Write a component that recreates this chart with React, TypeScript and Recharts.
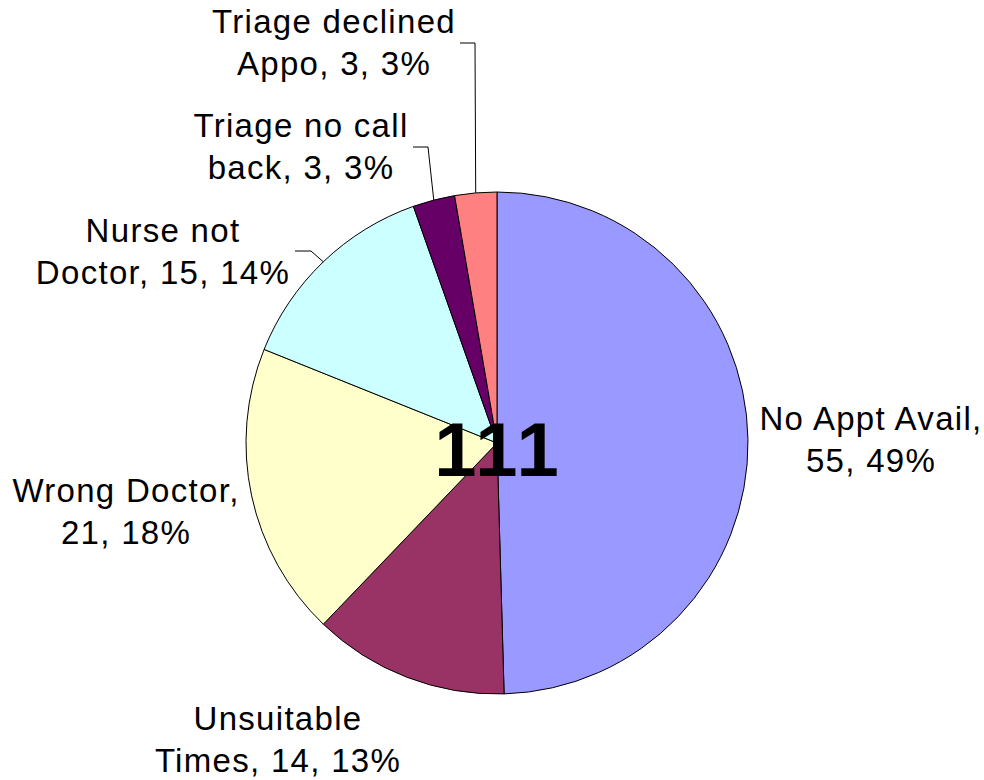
import { PieChart, Pie, Cell } from 'recharts';

const categories = ['No Appt Avail', 'Unsuitable Times', 'Wrong Doctor', 'Nurse not Doctor', 'Triage no call back', 'Triage declined Appo'];
const counts = [55, 14, 21, 15, 3, 3];
const percentLabels = ['49%', '13%', '18%', '14%', '3%', '3%'];
// where Excel wrapped each label
const firstLines = ['No Appt Avail,', 'Unsuitable', 'Wrong Doctor,', 'Nurse not', 'Triage no call', 'Triage declined'];
const secondLines = ['55, 49%', 'Times, 14, 13%', '21, 18%', 'Doctor, 15, 14%', 'back, 3, 3%', 'Appo, 3, 3%'];
const total = 111;

const colors = ['#9999FF', '#993366', '#FFFFCC', '#CCFFFF', '#660066', '#FF8080'];

// label placement relative to pie centre, plus leader line start/elbow for the small ones
const labelPos = [
  { dx: 374, dy: -13 },
  { dx: -219, dy: 287 },
  { dx: -371, dy: 59 },
  { dx: -334, dy: -201, lead: [-202, -192, -186, -192] },
  { dx: -196, dy: -306, lead: [-84, -296, -69, -296] },
  { dx: -163, dy: -410, lead: [-37, -400, -22, -400] },
];

const data = categories.map((name, i) => ({ name, value: counts[i], pct: percentLabels[i] }));

const RADIAN = Math.PI / 180;
const FONT = "Arial, 'Liberation Sans', sans-serif";

const renderLabel = (props: any) => {
  const { cx, cy, midAngle, outerRadius, index } = props;
  const p = labelPos[index];
  const x = cx + p.dx;
  const y = cy + p.dy;
  let line = null;
  if (p.lead) {
    const ex = cx + Math.cos(-midAngle * RADIAN) * outerRadius;
    const ey = cy + Math.sin(-midAngle * RADIAN) * outerRadius;
    const pts = `${cx + p.lead[0]},${cy + p.lead[1]} ${cx + p.lead[2]},${cy + p.lead[3]} ${ex},${ey}`;
    line = <polyline points={pts} fill="none" stroke="#000" strokeWidth={1} />;
  }
  return (
    <g key={`lbl-${index}`}>
      {line}
      <text x={x} y={y} textAnchor="middle" fontFamily={FONT} fontSize={33} letterSpacing={1.3} fill="#000">
        {firstLines[index]}
      </text>
      <text x={x} y={y + 42} textAnchor="middle" fontFamily={FONT} fontSize={33} letterSpacing={1.3} fill="#000">
        {secondLines[index]}
      </text>
      {index === categories.length - 1 && (
        // total in the middle, drawn last so it sits on top of the slices
        <text x={cx + 1} y={cy + 33} textAnchor="middle" fontFamily={FONT} fontWeight="bold" fontSize={76} letterSpacing={3} fill="#000">
          {total}
        </text>
      )}
    </g>
  );
};

export default function App() {
  return (
    <div style={{ position: 'absolute', left: 0, top: 0, background: '#fff' }}>
      <PieChart width={984} height={780} margin={{ top: 0, right: 0, bottom: 0, left: 0 }}>
        <Pie
          data={data}
          dataKey="value"
          nameKey="name"
          cx={497}
          cy={443}
          outerRadius={251}
          startAngle={90}
          endAngle={-270}
          stroke="#000"
          strokeWidth={1}
          label={renderLabel}
          labelLine={false}
          isAnimationActive={false}
        >
          {data.map((d, i) => (
            <Cell key={d.name} fill={colors[i]} />
          ))}
        </Pie>
      </PieChart>
    </div>
  );
}
